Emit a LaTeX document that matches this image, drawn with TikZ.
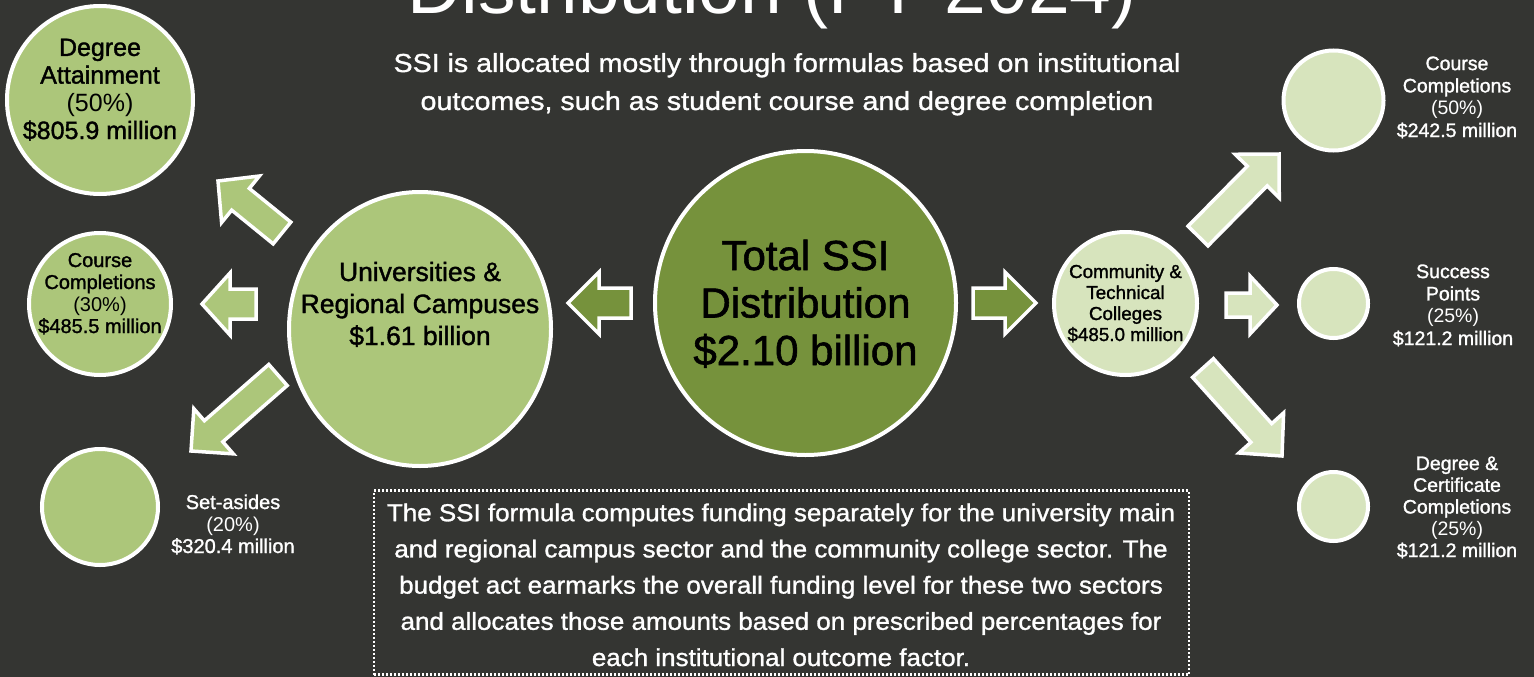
\documentclass[tikz,border=0pt]{standalone}
\usepackage{fontspec}
\setmainfont{Liberation Sans}
\newfontfamily\fmed[FakeBold=1.4]{Liberation Sans}
\newfontfamily\fmedw[FakeBold=1.2,FakeStretch=1.10]{Liberation Sans}
\newfontfamily\fmedb[FakeBold=1.2,FakeStretch=1.06]{Liberation Sans}
\usetikzlibrary{calc,shapes.geometric}
\definecolor{bg}{RGB}{52,53,50}
\definecolor{lgreen}{RGB}{172,198,122}
\definecolor{olive}{RGB}{118,146,60}
\definecolor{pale}{RGB}{215,228,189}
\tikzset{
  bub/.style={ellipse, draw=white, line width=4pt, inner sep=0pt},
  blk/.style={draw=white, line width=3.5pt, line join=miter, miter limit=4},
  ctext/.style={align=center, text=black, inner sep=0pt, anchor=base},
  wtext/.style={align=center, text=white, inner sep=0pt, anchor=base},
  titletext/.style={text=white, inner sep=0pt, anchor=base},
  dotbox/.style={draw=white, line width=2.5pt, dash pattern=on 2pt off 2pt, inner sep=0pt},
}
% #1 style, #2 tail coordinate, #3 tip coordinate, #4 shaft half width, #5 head half width, #6 head length
\newcommand{\blockarr}[6]{%
  \coordinate (hb) at ($(#3)!#6!(#2)$);
  \draw[#1] ($(#2)!#4!90:(#3)$) -- ($(hb)!#4!-90:(#2)$) -- ($(hb)!#5!-90:(#2)$) -- (#3)
    -- ($(hb)!#5!90:(#2)$) -- ($(hb)!#4!90:(#2)$) -- ($(#2)!#4!-90:(#3)$) -- cycle;}
\begin{document}
\begin{tikzpicture}[x=1pt,y=-1pt]
\useasboundingbox (0,0) rectangle (1534,677);
\fill[bg] (0,0) rectangle (1534,677);
\clip (0,0) rectangle (1534,677);

% title (cut off at top)
\node[titletext, font={\fontsize{75}{80}\selectfont}] (title) at (772,14) {Distribution (FY 2024)};
\node[wtext, font={\fmedw\fontsize{26}{38}\selectfont}] (subtitle) at (787,110)
  {SSI is allocated mostly through formulas based on institutional\\outcomes, such as student course and degree completion};

% circles
\node[bub, fill=lgreen, minimum width=186, minimum height=188] (degA) at (100,100) {};
\node[bub, fill=lgreen, minimum width=142, minimum height=142] (courseL) at (100,304) {};
\node[bub, fill=lgreen, minimum width=116, minimum height=116] (setA) at (100,507) {};
\node[bub, fill=lgreen, minimum width=262, minimum height=274] (univ) at (420,329) {};
\node[bub, fill=olive, minimum width=301, minimum height=304] (total) at (805.5,303) {};
\node[bub, fill=pale, minimum width=143, minimum height=143] (comm) at (1125.5,303.5) {};
\node[bub, fill=pale, minimum width=100, minimum height=100] (ccR) at (1333.5,100.5) {};
\node[bub, fill=pale, minimum width=69, minimum height=69] (succ) at (1333.5,303.5) {};
\node[bub, fill=pale, minimum width=69, minimum height=69] (degR) at (1333.5,506.5) {};

% circle texts
\node[ctext, font={\fontsize{25}{27.7}\selectfont}] (degAt) at (100,139)
  {{\fmed Degree}\\{\fmed Attainment}\\(50\%)\\{\fmed \$805.9 million}};
\node[ctext, font={\fontsize{20}{22}\selectfont}] (courseLt) at (100,333)
  {{\fmed Course}\\{\fmed Completions}\\(30\%)\\{\fmed \$485.5 million}};
\node[ctext, font={\fmed\fontsize{26.5}{32}\selectfont}] (univt) at (420,345)
  {Universities \&\\Regional Campuses\\\$1.61 billion};
\node[ctext, font={\fmed\fontsize{42}{47.5}\selectfont}] (totalt) at (805.5,365)
  {Total SSI\\Distribution\\\$2.10 billion};
\node[ctext, font={\fmed\fontsize{18.8}{21}\selectfont}] (commt) at (1125.5,341)
  {Community \&\\Technical\\Colleges\\\$485.0 million};

% outside labels
\node[wtext, font={\fontsize{20}{22}\selectfont}] (setAt) at (233,553)
  {{\fmed Set-asides}\\(20\%)\\{\fmed \$320.4 million}};
\node[wtext, font={\fontsize{19.5}{22.3}\selectfont}] (ccRt) at (1457,137)
  {{\fmed Course}\\{\fmed Completions}\\(50\%)\\{\fmed \$242.5 million}};
\node[wtext, font={\fontsize{19.5}{22.3}\selectfont}] (succt) at (1453,345)
  {{\fmed Success}\\{\fmed Points}\\(25\%)\\{\fmed \$121.2 million}};
\node[wtext, font={\fontsize{19.5}{21.75}\selectfont}] (degRt) at (1457,557)
  {{\fmed Degree \&}\\{\fmed Certificate}\\{\fmed Completions}\\(25\%)\\{\fmed \$121.2 million}};

% arrow end points
\coordinate (a1s) at (631,303);   \coordinate (a1e) at (568,303);
\coordinate (a2s) at (973,303);   \coordinate (a2e) at (1036,303);
\coordinate (a3s) at (282,233);   \coordinate (a3e) at (218,181);
\coordinate (a4s) at (256,304);   \coordinate (a4e) at (202,304);
\coordinate (a5s) at (278,375);   \coordinate (a5e) at (191,451);
\coordinate (a6s) at (1198,236);  \coordinate (a6e) at (1279,154);
\coordinate (a7s) at (1226,305);  \coordinate (a7e) at (1277,305);
\coordinate (a8s) at (1203,368);  \coordinate (a8e) at (1282,456);

\blockarr{blk, fill=olive}{a1s}{a1e}{15pt}{31pt}{31pt}
\blockarr{blk, fill=olive}{a2s}{a2e}{15pt}{31pt}{31pt}
\blockarr{blk, fill=lgreen}{a3s}{a3e}{14pt}{30pt}{29pt}
\blockarr{blk, fill=lgreen}{a4s}{a4e}{15pt}{31pt}{28pt}
\blockarr{blk, fill=lgreen}{a5s}{a5e}{14pt}{30pt}{30pt}
\blockarr{blk, fill=pale}{a6s}{a6e}{14pt}{31pt}{31pt}
\blockarr{blk, fill=pale}{a7s}{a7e}{12pt}{29pt}{27pt}
\blockarr{blk, fill=pale}{a8s}{a8e}{14pt}{30pt}{31pt}

% explanation box
\node[dotbox, minimum width=815, minimum height=184] (box) at (781.5,582.5) {};
\node[wtext, font={\fmedb\fontsize{24.5}{36.2}\selectfont}] (boxt) at (781,666)
  {The SSI formula computes funding separately for the university main\\
   and regional campus sector and the community college sector. The\\
   budget act earmarks the overall funding level for these two sectors\\
   and allocates those amounts based on prescribed percentages for\\
   each institutional outcome factor.};
\end{tikzpicture}
\end{document}
